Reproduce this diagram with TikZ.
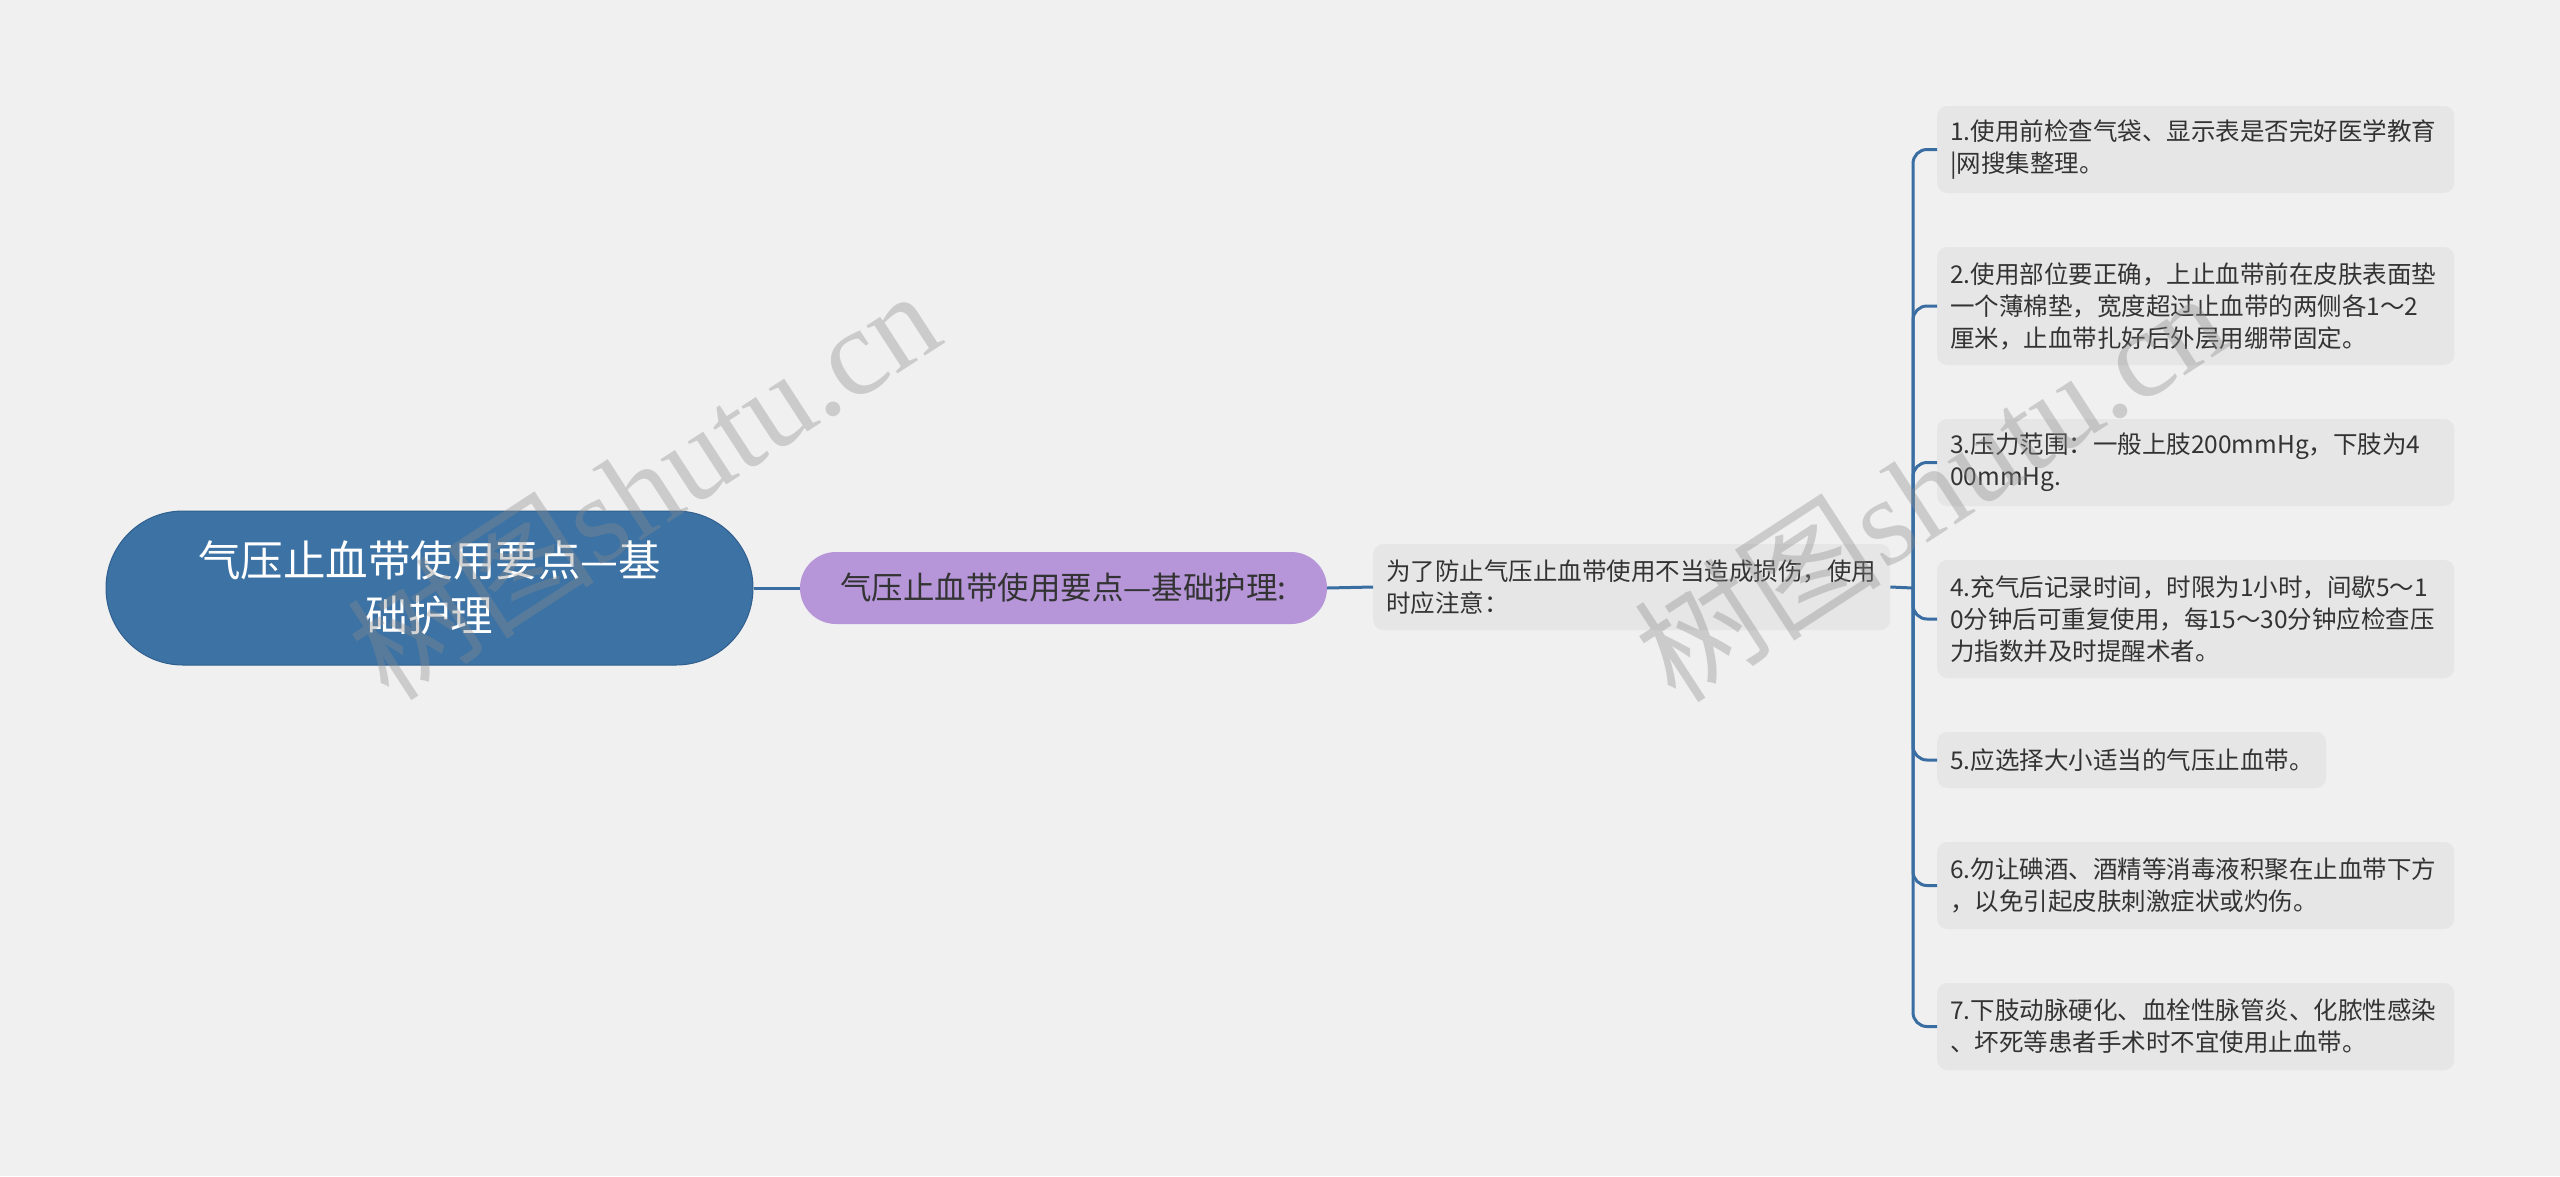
\documentclass[tikz,border=0pt]{standalone}
\usepackage{fontspec}
\newfontfamily\cjk{Noto Sans CJK SC}
\newfontfamily\wmserif{Liberation Serif}
\definecolor{bgc}{HTML}{F0F0F0}
\definecolor{rootc}{HTML}{3C72A4}
\definecolor{rootb}{HTML}{2F5F8E}
\definecolor{linec}{HTML}{3A6EA3}
\definecolor{purplec}{HTML}{B696D9}
\definecolor{boxc}{HTML}{E6E6E6}
\definecolor{textc}{HTML}{333333}
\definecolor{wmc}{HTML}{8C8C8C}
\begin{document}
\begin{tikzpicture}[x=1pt,y=-1pt,
  conn/.style={draw=linec, line width=3pt},
  rootnode/.style={draw=rootb, line width=1pt, fill=rootc, text=white, align=center,
    minimum width=647pt, minimum height=154pt, rounded corners=76.9pt, inner sep=0pt,
    font=\cjk\fontsize{42.5}{55}\selectfont},
  subnode/.style={fill=purplec, text=textc, align=center, minimum width=527pt,
    minimum height=72pt, rounded corners=35.9pt, inner sep=0pt,
    font=\cjk\fontsize{31.5}{40}\selectfont},
  leaf/.style={fill=boxc, text=textc, rounded corners=10pt, anchor=west, text width=#1,
    align=left, inner xsep=13pt, inner ysep=0pt,
    font=\cjk\fontsize{24.5}{32}\selectfont},
  wm/.style={text=wmc, opacity=0.37, rotate=33, inner sep=0pt}
]
\fill[bgc] (0,0) rectangle (2560,1176);
\useasboundingbox (0,0) rectangle (2560,1176);

\node[rootnode] (root) at (429.5,588) {气压止血带使用要点—基\\础护理};
\node[subnode] (sub) at (1063.5,588) {气压止血带使用要点—基础护理:};
\node[leaf=491pt, minimum height=86pt] (mid) at (1373,587) {为了防止气压止血带使用不当造成损伤，使用\\时应注意：};

\node[leaf=491pt, minimum height=87pt] (c1) at (1937,149.5) {1.使用前检查气袋、显示表是否完好医学教育\\|网搜集整理。};
\node[leaf=491pt, minimum height=118pt] (c2) at (1937,306) {2.使用部位要正确，上止血带前在皮肤表面垫\\一个薄棉垫，宽度超过止血带的两侧各1～2\\厘米，止血带扎好后外层用绷带固定。};
\node[leaf=491pt, minimum height=87pt] (c3) at (1937,462.5) {3.压力范围：一般上肢200mmHg，下肢为4\\00mmHg.};
\node[leaf=491pt, minimum height=118pt] (c4) at (1937,619) {4.充气后记录时间，时限为1小时，间歇5～1\\0分钟后可重复使用，每15～30分钟应检查压\\力指数并及时提醒术者。};
\node[leaf=363pt, minimum height=56pt] (c5) at (1937,760) {5.应选择大小适当的气压止血带。};
\node[leaf=491pt, minimum height=87pt] (c6) at (1937,885.5) {6.勿让碘酒、酒精等消毒液积聚在止血带下方\\，以免引起皮肤刺激症状或灼伤。};
\node[leaf=491pt, minimum height=87pt] (c7) at (1937,1026.5) {7.下肢动脉硬化、血栓性脉管炎、化脓性感染\\、坏死等患者手术时不宜使用止血带。};

\coordinate (hub) at (1913,588);
\draw[conn] (root.east) -- (sub.west);
\draw[conn] (sub.east) -- (mid.west);
\draw[conn] (mid.east) -- (hub);
\foreach \c in {c1,c2,c3,c4,c5,c6,c7}{
  \draw[conn, rounded corners=14pt] (hub) |- (\c.west);
}

\node[wm] (wm1) at (643,483) {\fontsize{124}{124}\selectfont{\cjk 树图}{\wmserif shutu.cn}};
\node[wm] (wm2) at (1930,485) {\fontsize{124}{124}\selectfont{\cjk 树图}{\wmserif shutu.cn}};
\end{tikzpicture}
\end{document}
